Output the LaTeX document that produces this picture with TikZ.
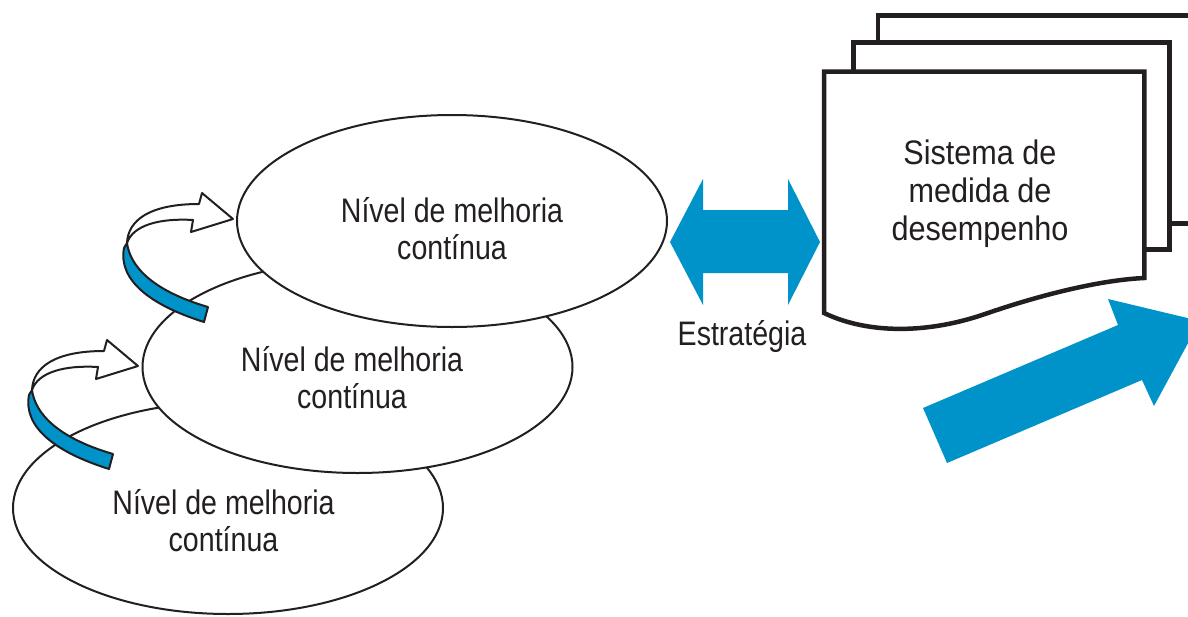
\documentclass[tikz,border=0pt]{standalone}
\usepackage{fontspec}
\setmainfont{Liberation Sans}[FakeStretch=0.84]
\newfontfamily\docfont{Liberation Sans}[FakeStretch=0.9]
\usetikzlibrary{shapes.geometric}
\definecolor{ink}{RGB}{35,31,32}
\definecolor{cyanblue}{RGB}{0,147,201}
\tikzset{
  lvl/.style={draw=ink, line width=2pt, fill=white, ellipse, minimum width=430pt, minimum height=212pt, inner sep=0pt},
  lbl/.style={align=center, text=ink, font=\fontsize{34}{37}\selectfont, inner sep=0pt},
  doclbl/.style={align=center, text=ink, font=\docfont\fontsize{34}{38}\selectfont, inner sep=0pt},
  sheet/.style={draw=ink, line width=4.5pt, fill=white, line join=miter},
  twist/.style={draw=ink, line width=2pt, fill=white, line join=round},
  band/.style={draw=ink, line width=2pt, fill=cyanblue, line join=round},
  cyclearrow/.pic={
    \draw[twist] (127,243) .. controls (128,220) and (150,204) .. (199,204) -- (202,193) -- (233,219) -- (191,232) -- (193,220) .. controls (160,218) and (133,225) .. (127,243) -- cycle;
    \draw[band] (127,243) .. controls (130,265) and (150,290) .. (208,307) -- (204,322) .. controls (150,305) and (118,280) .. (124,248) -- cycle;
  }
}
\begin{document}
\begin{tikzpicture}[x=1pt,y=-1pt]
\useasboundingbox (0,0) rectangle (1188,616);
% level ellipses
\node[lvl] (e3) at (228,508) {};
\node[lvl] (e2) at (357.5,367) {};
\node[lvl] (e1) at (452,221) {};
\node[lbl] (t1) at (452,229) {Nível de melhoria\\contínua};
\node[lbl] (t2) at (352,378) {Nível de melhoria\\contínua};
\node[lbl] (t3) at (223.5,521) {Nível de melhoria\\contínua};
% curved arrows
\pic (c1) at (0,0) {cyclearrow};
\pic (c2) at (-95,147) {cyclearrow};
% double arrow
\fill[cyanblue] (670,242) -- (703,179) -- (703,210) -- (788,210) -- (788,179) -- (820,242) -- (788,305) -- (788,273) -- (703,273) -- (703,305) -- cycle;
\node[lbl] (estr) at (742,337) {Estratégia};
% stacked documents
\draw[sheet] (878,15.5) rectangle (1215,223.3);
\draw[sheet] (853.3,42.3) rectangle (1169.3,249.3);
\draw[sheet] (824,71.7) -- (1144.3,71.7) -- (1144.3,278) .. controls (1100,280) and (1040,295) .. (985,314) .. controls (930,333) and (870,335) .. (824,313) -- cycle;
\node[doclbl] (doc) at (980,194) {Sistema de\\medida de\\desempenho};
% big arrow
\fill[cyanblue] (923,408) -- (1118,325) -- (1108,299) -- (1200,321) -- (1154,406) -- (1142,380) -- (947,463) -- cycle;
\end{tikzpicture}
\end{document}
